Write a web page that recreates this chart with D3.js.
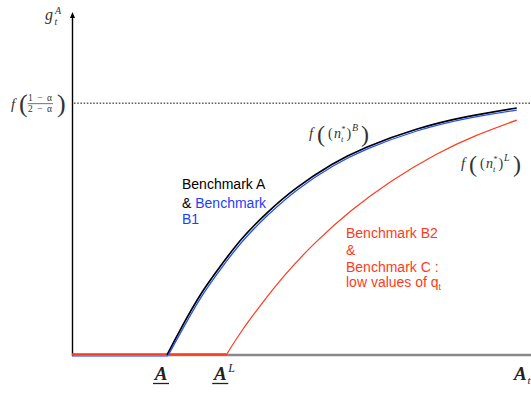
<!DOCTYPE html>
<html><head><meta charset="utf-8">
<script src="https://cdn.jsdelivr.net/npm/d3@7"></script>
<style>body{margin:0;background:#fff}svg{display:block}</style>
</head><body>
<svg id="c" width="531" height="394"></svg>
<script>
// ---- data (model units) ----
const blackA = [2.07, 2.40, 2.83, 3.27, 3.70, 4.25, 4.90, 5.66, 6.43, 7.52, 8.61, 9.69];
const blackG = [0, 0.83, 1.81, 2.64, 3.37, 4.12, 4.85, 5.52, 6.03, 6.55, 6.91, 7.16];
const blueA  = [2.10, 2.43, 2.86, 3.30, 3.73, 4.28, 4.92, 5.68, 6.45, 7.53, 8.62, 9.69];
const blueG  = [0, 0.80, 1.77, 2.60, 3.32, 4.07, 4.80, 5.47, 5.98, 6.50, 6.86, 7.10];
const redA   = [3.36, 3.68, 4.12, 4.66, 5.32, 6.08, 6.95, 7.93, 8.80, 9.69];
const redG   = [0, 0.66, 1.46, 2.35, 3.28, 4.18, 5.03, 5.81, 6.36, 6.81];
const floorStart = 0;        // A = 0, g = 0 segment
const ceilingG = 7.30;
const tickPos = [2.07, 3.36, 9.90];
const tickBase = ["A", "A", "A"];
const tickSup = ["", "L", ""];
const tickSub = ["", "", "t"];
const tickUnder = [true, true, false];
const blackLabel = ["Benchmark A"];
const blueLabel2 = ["&", "Benchmark"];
const blueLabel3 = ["B1"];
const redLabel = ["Benchmark B2", "&", "Benchmark C :", "low values of q"];

// ---- scales ----
const x = d3.scaleLinear().domain([0, 10]).range([72, 531]);
const y = d3.scaleLinear().domain([0, 10]).range([355, 10]);
const svg = d3.select("#c");
const serif = "'Liberation Serif', 'DejaVu Serif', serif";
const sans = "'Liberation Sans', Arial, Helvetica, sans-serif";
const mathCol = "#333";

// x axis (grey)
svg.append("line").attr("x1", x(0)).attr("x2", 531).attr("y1", y(0)).attr("y2", y(0))
  .attr("stroke", "#888").attr("stroke-width", 2.4);
// dotted ceiling
svg.append("line").attr("x1", x(0) + 2).attr("x2", 531).attr("y1", y(ceilingG)).attr("y2", y(ceilingG))
  .attr("stroke", "#111").attr("stroke-width", 1).attr("stroke-dasharray", "1.6,1.6");
// y axis with arrow
svg.append("line").attr("x1", x(0) + 0.5).attr("x2", x(0) + 0.5).attr("y1", y(0) + 1).attr("y2", 16)
  .attr("stroke", "#000").attr("stroke-width", 1.4);
svg.append("path").attr("d", `M${x(0)+0.5},12 L${x(0)-2},18 L${x(0)+3},18 Z`).attr("fill", "#000");

const line = d3.line().x(d => x(d[0])).y(d => y(d[1])).curve(d3.curveNatural);
const zip = (a, b) => a.map((v, i) => [v, b[i]]);

// flat parts along the axis
svg.append("line").attr("x1", x(floorStart)).attr("x2", x(blueA[0])).attr("y1", y(0) + 1.2).attr("y2", y(0) + 1.2)
  .attr("stroke", "#7f9cff").attr("stroke-width", 1.5);
svg.append("line").attr("x1", x(floorStart)).attr("x2", x(redA[0])).attr("y1", y(0) - 0.6).attr("y2", y(0) - 0.6)
  .attr("stroke", "#ff3b1e").attr("stroke-width", 2.2);

svg.append("path").attr("d", line(zip(blackA, blackG))).attr("fill", "none")
  .attr("stroke", "#000").attr("stroke-width", 1.7);
svg.append("path").attr("d", line(zip(blueA, blueG))).attr("fill", "none")
  .attr("stroke", "#2350ff").attr("stroke-width", 1.3);
svg.append("path").attr("d", line(zip(redA, redG))).attr("fill", "none")
  .attr("stroke", "#ff3b1e").attr("stroke-width", 1.2);

// ---- y axis label g_t^A ----
const gl = svg.append("g").attr("fill", mathCol).attr("font-family", serif).attr("font-style", "italic");
gl.append("text").attr("x", 45).attr("y", 20).attr("font-size", 16).text("g");
gl.append("text").attr("x", 55).attr("y", 14).attr("font-size", 10).text("A");
gl.append("text").attr("x", 54.5).attr("y", 25).attr("font-size", 10).text("t");

// ---- f((1-a)/(2-a)) ----
const cy = y(ceilingG);
const fl = svg.append("g").attr("fill", mathCol).attr("font-family", serif);
fl.append("text").attr("x", 11).attr("y", cy + 6).attr("font-size", 15).attr("font-style", "italic").text("f");
fl.append("text").attr("x", 19).attr("y", cy + 8.5).attr("font-size", 26).text("(");
fl.append("text").attr("x", 57).attr("y", cy + 8.5).attr("font-size", 26).text(")");
fl.append("text").attr("x", 28).attr("y", cy - 1.8).attr("font-size", 9.5).attr("textLength", 24).attr("lengthAdjust", "spacing").text("1−α");
fl.append("line").attr("x1", 27.5).attr("x2", 53).attr("y1", cy + 0.5).attr("y2", cy + 0.5).attr("stroke", mathCol).attr("stroke-width", 0.7);
fl.append("text").attr("x", 28).attr("y", cy + 8.5).attr("font-size", 9.5).attr("textLength", 24).attr("lengthAdjust", "spacing").text("2−α");

// ---- f((n_t^*)^X) labels ----
function nLabel(x0, base, sup) {
  const g = svg.append("g").attr("fill", mathCol).attr("font-family", serif);
  g.append("text").attr("x", x0).attr("y", base).attr("font-size", 15).attr("font-style", "italic").text("f");
  g.append("text").attr("x", x0 + 8).attr("y", base + 4).attr("font-size", 24).text("(");
  g.append("text").attr("x", x0 + 19).attr("y", base).attr("font-size", 14).text("(");
  g.append("text").attr("x", x0 + 25).attr("y", base).attr("font-size", 14).attr("font-style", "italic").text("n");
  g.append("text").attr("x", x0 + 32.5).attr("y", base - 6).attr("font-size", 8).text("*");
  g.append("text").attr("x", x0 + 32).attr("y", base + 3.5).attr("font-size", 8.5).attr("font-style", "italic").text("t");
  g.append("text").attr("x", x0 + 37.5).attr("y", base).attr("font-size", 14).text(")");
  g.append("text").attr("x", x0 + 43).attr("y", base - 7).attr("font-size", 10).attr("font-style", "italic").text(sup);
  g.append("text").attr("x", x0 + 52).attr("y", base + 4).attr("font-size", 24).text(")");
}
nLabel(309, 138, "B");
nLabel(461, 168, "L");

// ---- text annotations ----
const t1 = svg.append("g").attr("font-family", sans).attr("font-size", 14);
t1.append("text").attr("x", 182).attr("y", 189).attr("fill", "#000").text(blackLabel[0]);
const l2 = t1.append("text").attr("x", 182).attr("y", 207.5);
l2.append("tspan").attr("fill", "#000").text(blueLabel2[0] + " ");
l2.append("tspan").attr("fill", "#1e3cff").text(blueLabel2[1]);
t1.append("text").attr("x", 182).attr("y", 224).attr("fill", "#1e3cff").text(blueLabel3[0]);

const t2 = svg.append("g").attr("font-family", sans).attr("font-size", 14).attr("fill", "#ff3a1a");
const redBase = [238, 254.5, 271.5, 287];
redLabel.forEach((s, i) => {
  const tt = t2.append("text").attr("x", 346).attr("y", redBase[i]).text(s);
  if (i === 3) tt.append("tspan").attr("font-size", 9).attr("dy", 3).text("t");
});

// ---- x tick labels ----
tickPos.forEach((p, i) => {
  const cx = x(p) - 6;
  const g = svg.append("g").attr("fill", "#222").attr("font-family", serif).attr("font-style", "italic").attr("font-weight", "bold");
  g.append("text").attr("x", cx).attr("y", 380).attr("font-size", 19).attr("text-anchor", "middle").text(tickBase[i]);
  if (tickSup[i]) g.append("text").attr("x", cx + 8).attr("y", 372).attr("font-size", 12).attr("font-weight", "normal").text(tickSup[i]);
  if (tickSub[i]) g.append("text").attr("x", cx + 7).attr("y", 384).attr("font-size", 11).attr("font-weight", "normal").text(tickSub[i]);
  if (tickUnder[i]) g.append("line").attr("x1", cx - 8).attr("x2", cx + 8).attr("y1", 383.5).attr("y2", 383.5)
    .attr("stroke", "#222").attr("stroke-width", 1.3);
});
</script>
</body></html>
